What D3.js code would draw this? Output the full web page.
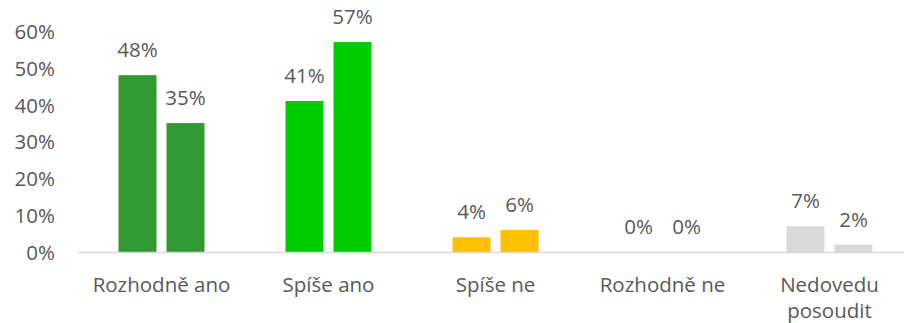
<!DOCTYPE html>
<html>
<head>
<meta charset="utf-8">
<script src="https://cdn.jsdelivr.net/npm/d3@7"></script>
<style>
  html, body { margin: 0; padding: 0; background: #fff; }
  svg { display: block; }
  text { font-family: "Open Sans", sans-serif; fill: #595959; }
</style>
</head>
<body>
<svg id="chart" width="904" height="323"></svg>
<script>
// Answer categories (label lines) and their bar colours
const categories = ["Rozhodně ano", "Spíše ano", "Spíše ne", "Rozhodně ne", "Nedovedu posoudit"];
const categoryLines = [["Rozhodně ano"], ["Spíše ano"], ["Spíše ne"], ["Rozhodně ne"], ["Nedovedu", "posoudit"]];
const colors = ["#339933", "#00CC00", "#FFC000", "#FFC000", "#D9D9D9"];

// Two survey waves, shares in percent
const seriesA = [48, 41, 4, 0, 7];
const seriesB = [35, 57, 6, 0, 2];

const yTicks = [0, 10, 20, 30, 40, 50, 60];

const svg = d3.select("#chart");
const fontSize = 20.5;

const x = d3.scaleBand().domain(categories).range([78, 913]).paddingInner(0).paddingOuter(0);
const y = d3.scaleLinear().domain([0, 60]).range([252, 31]);

const barW = 38, gap = 10;
// offset of each series' bar inside a category group
const sub = d3.scaleOrdinal().domain(["A", "B"]).range([0, barW + gap]);
const groupW = barW * 2 + gap;

const rows = categories.map((c, i) => ({ c, i, vals: [["A", seriesA[i]], ["B", seriesB[i]]] }));

// Y axis: labels only, no line or ticks
const yAxis = d3.axisLeft(y).tickValues(yTicks).tickFormat(d => d + "%").tickSize(0).tickPadding(0);
const gy = svg.append("g").attr("transform", "translate(55,0)").call(yAxis);
gy.select(".domain").remove();
gy.selectAll("text")
  .style("font-family", '"Open Sans", sans-serif')
  .style("font-size", fontSize + "px")
  .attr("fill", "#595959")
  .attr("dy", "0.36em");

// Bars
const groups = svg.append("g").selectAll("g").data(rows).join("g")
  .attr("transform", d => `translate(${x(d.c) + (x.bandwidth() - groupW) / 2},0)`);

groups.selectAll("rect").data(d => d.vals.map(v => ({ k: v[0], v: v[1], color: colors[d.i] })))
  .join("rect")
  .attr("x", d => sub(d.k))
  .attr("width", barW)
  .attr("y", d => y(d.v))
  .attr("height", d => y(0) - y(d.v))
  .attr("fill", d => d.color);

// Value labels above bars
groups.selectAll("text.val").data(d => d.vals.map(v => ({ k: v[0], v: v[1] })))
  .join("text")
  .attr("class", "val")
  .attr("x", d => sub(d.k) + barW / 2)
  .attr("y", d => y(d.v) - 18)
  .attr("text-anchor", "middle")
  .style("font-size", fontSize + "px")
  .text(d => d.v + "%");

// Baseline
svg.append("line")
  .attr("x1", 78).attr("x2", 904)
  .attr("y1", y(0) + 0.5).attr("y2", y(0) + 0.5)
  .attr("stroke", "#D9D9D9").attr("stroke-width", 1.5);

// Category labels
const gx = svg.append("g");
rows.forEach(d => {
  const cx = x(d.c) + x.bandwidth() / 2;
  const t = gx.append("text")
    .attr("x", cx)
    .attr("y", 292)
    .attr("text-anchor", "middle")
    .style("font-size", fontSize + "px");
  categoryLines[d.i].forEach((line, j) => {
    t.append("tspan").attr("x", cx).attr("dy", j === 0 ? 0 : 26).text(line);
  });
});
</script>
</body>
</html>
